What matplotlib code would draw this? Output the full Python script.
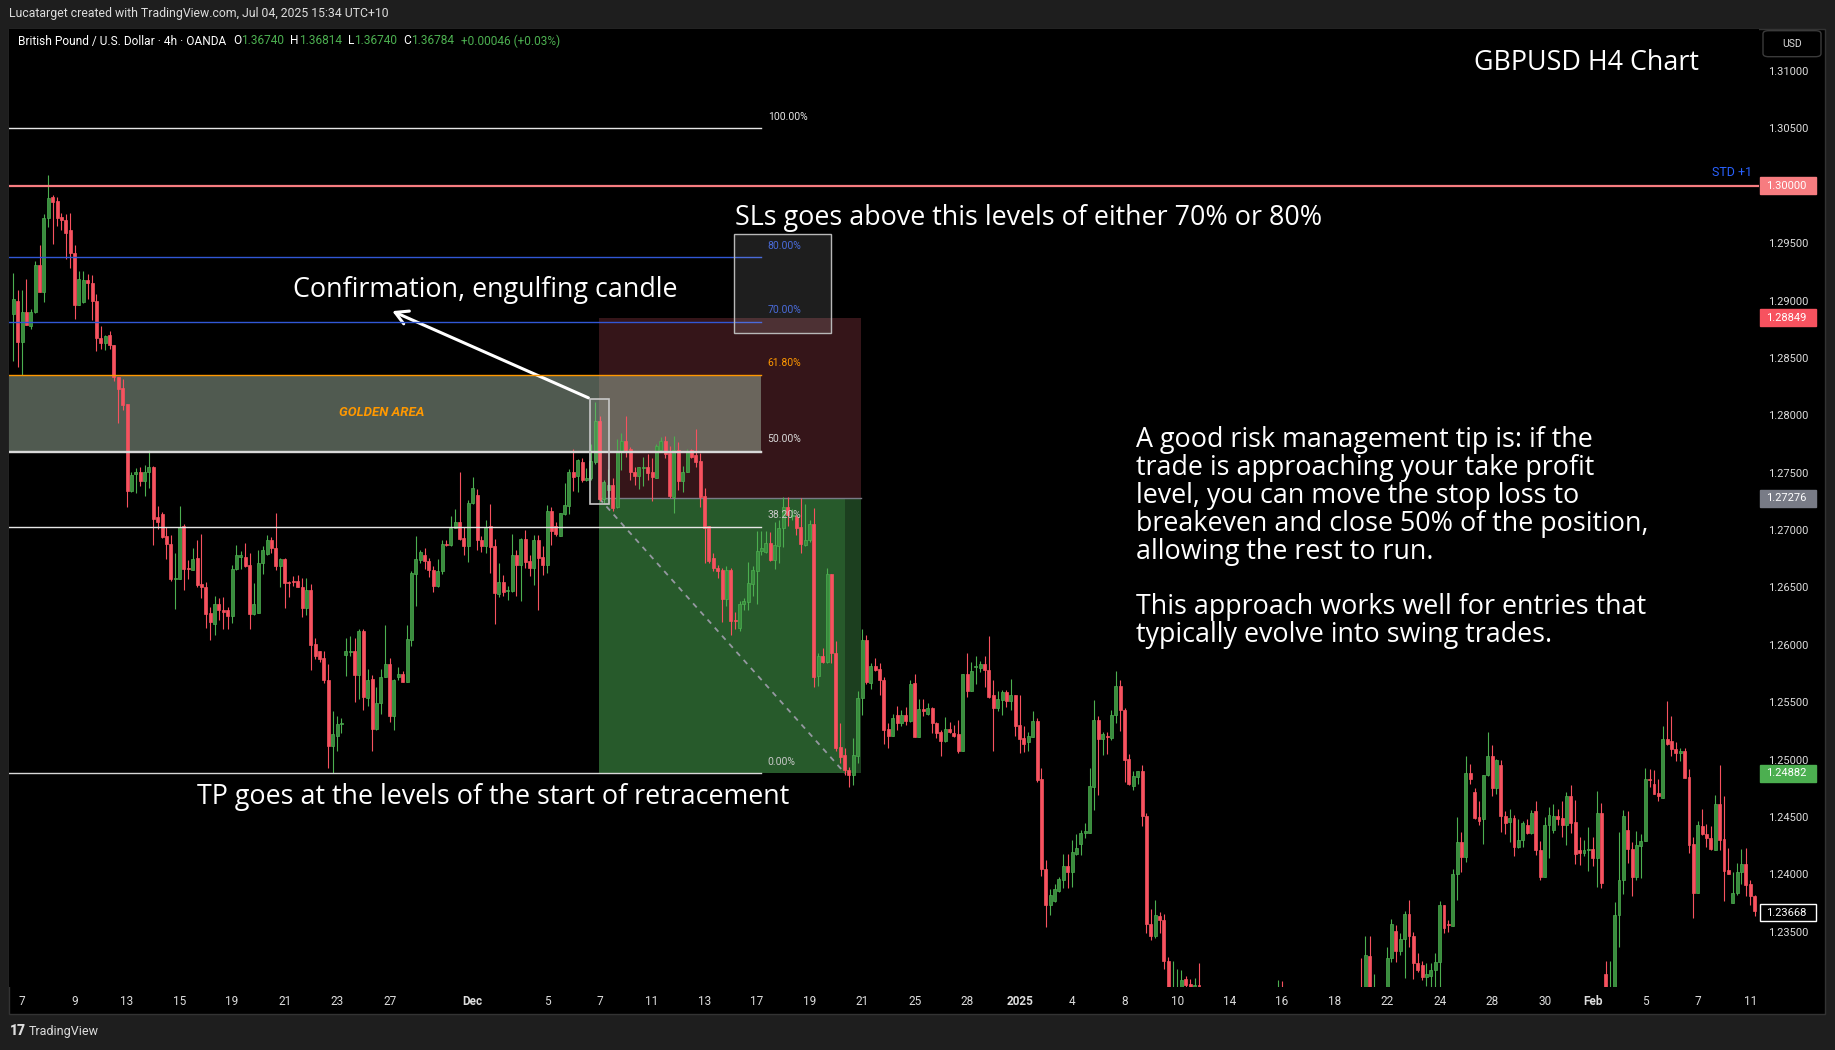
########## GBPUSD H4 chart, TradingView style
import numpy as np
import matplotlib
matplotlib.use('Agg')
import matplotlib.pyplot as plt
from matplotlib.patches import Rectangle, FancyBboxPatch

plt.rcParams['font.family'] = ['Roboto', 'DejaVu Sans']

### canvas in pixels
W, H = 1835, 1050
AX_L, AX_R, AX_T, AX_B = 9.4, 1759, 29, 987

### 4h candles, prices in pips (price * 1e4)
opens = [
    12888,12900,12864,12890,12878,12890,12931,12907,12972,12990, 12987,12973,12970,12961,12941,12896,12899,12918,12915,12900,
    12867,12863,12870,12861,12833,12824,12810,12734,12749,12751, 12743,12751,12755,12711,12714,12695,12688,12657,12657,12704,
    12667,12665,12676,12653,12650,12628,12618,12636,12630,12630, 12625,12666,12677,12677,12670,12627,12628,12671,12679,12691,
    12684,12669,12675,12655,12656,12656,12650,12632,12648,12601, 12595,12589,12569,12512,12521,12531,12591,12594,12595,12574,
    12612,12554,12570,12527,12549,12572,12583,12538,12572,12575, 12568,12604,12662,12674,12678,12673,12665,12651,12664,12688,
    12687,12702,12707,12693,12686,12724,12731,12691,12686,12704, 12686,12644,12655,12647,12647,12678,12670,12692,12673,12667,
    12691,12677,12670,12717,12704,12695,12714,12721,12751,12747, 12759,12744,12745,12759,12795,12727,12735,12739,12720,12768,
    12778,12771,12751,12747,12754,12755,12751,12745,12770,12778, 12767,12729,12770,12743,12751,12770,12765,12760,12730,12704,
    12676,12667,12665,12640,12665,12622,12615,12636,12637,12653, 12664,12682,12681,12689,12674,12686,12702,12720,12712,12711,
    12703,12687,12691,12705,12573,12590,12585,12662,12593,12511, 12504,12491,12487,12503,12554,12604,12567,12582,12579,12569,
    12527,12521,12539,12532,12539,12534,12567,12520,12544,12540, 12545,12532,12524,12516,12527,12523,12522,12508,12575,12560,
    12581,12580,12583,12578,12556,12545,12552,12559,12551,12556, 12530,12519,12515,12520,12534,12483,12405,12373,12377,12386,
    12395,12407,12402,12418,12427,12436,12436,12476,12535,12518, 12521,12519,12539,12564,12543,12501,12477,12485,12490,12451,
    12357,12346,12364,12360,12325,12280,12290,12296,12309,12305, 12280,12304,12270,12245,12255,12240,12210,12160,12125,12150,
    12180,12200,12210,12230,12250,12235,12220,12240,12262,12275, 12295,12268,12250,12232,12240,12255,12268,12262,12250,12230,
    12175,12190,12215,12230,12248,12262,12280,12270,12290,12270, 12329,12290,12298,12282,12292,12327,12351,12333,12344,12366,
    12346,12323,12321,12311,12312,12317,12324,12373,12357,12355, 12400,12428,12415,12488,12472,12450,12448,12487,12503,12475,
    12495,12451,12446,12449,12424,12430,12443,12436,12455,12421, 12398,12443,12439,12451,12449,12443,12468,12446,12421,12419,
    12421,12422,12414,12454,12313,12265,12290,12365,12395,12439, 12422,12398,12425,12429,12483,12479,12471,12467,12518,12516,
    12509,12506,12508,12485,12427,12384,12442,12435,12432,12421, 12461,12431,12404,12375,12384,12402,12409,12392,12381]
highs = [
    12924,12909,12909,12919,12893,12934,12948,12975,13009,12992, 12990,12976,12975,12976,12948,12926,12926,12923,12922,12906,
    12878,12870,12873,12861,12833,12832,12810,12751,12754,12755, 12757,12770,12756,12721,12716,12703,12696,12680,12721,12705,
    12674,12684,12691,12697,12655,12633,12643,12641,12642,12633, 12670,12687,12682,12689,12680,12654,12683,12686,12696,12694,
    12715,12676,12676,12656,12660,12661,12658,12658,12653,12606, 12595,12595,12583,12542,12538,12536,12606,12608,12606,12614,
    12614,12579,12574,12563,12579,12617,12589,12570,12581,12577, 12617,12664,12695,12683,12684,12676,12669,12675,12691,12691,
    12712,12718,12751,12703,12726,12746,12736,12695,12709,12723, 12692,12671,12661,12651,12697,12683,12693,12700,12678,12696,
    12696,12686,12722,12720,12707,12715,12741,12753,12771,12762, 12763,12754,12775,12812,12799,12744,12753,12745,12779,12785,
    12799,12772,12755,12755,12764,12766,12763,12775,12781,12782, 12773,12782,12777,12756,12771,12771,12788,12767,12737,12704,
    12680,12670,12667,12669,12667,12629,12638,12641,12672,12669, 12699,12699,12699,12698,12707,12709,12729,12729,12718,12713,
    12728,12723,12709,12719,12593,12597,12667,12662,12603,12532, 12510,12494,12519,12560,12614,12609,12584,12589,12584,12572,
    12532,12540,12547,12543,12546,12569,12575,12553,12553,12549, 12546,12533,12526,12537,12533,12530,12535,12575,12593,12585,
    12590,12586,12590,12608,12569,12560,12561,12561,12570,12556, 12556,12529,12524,12542,12536,12493,12413,12387,12392,12398,
    12418,12418,12430,12435,12439,12445,12493,12552,12538,12524, 12524,12543,12577,12569,12545,12505,12490,12490,12495,12454,
    12370,12378,12367,12366,12328,12325,12318,12317,12312,12309, 12310,12323,12280,12262,12270,12250,12225,12175,12160,12190,
    12215,12225,12240,12260,12270,12255,12245,12270,12285,12308, 12307,12280,12262,12250,12265,12275,12285,12280,12265,12250,
    12200,12225,12240,12255,12270,12290,12295,12290,12327,12346, 12346,12313,12300,12298,12337,12361,12356,12349,12368,12378,
    12350,12332,12325,12323,12323,12332,12377,12373,12360,12405, 12450,12437,12503,12496,12475,12464,12487,12524,12513,12501,
    12500,12455,12457,12452,12448,12447,12448,12456,12464,12429, 12450,12459,12461,12457,12464,12472,12478,12465,12433,12430,
    12441,12433,12473,12462,12325,12325,12376,12437,12456,12455, 12428,12438,12435,12493,12492,12491,12483,12529,12551,12538,
    12515,12510,12510,12492,12433,12447,12457,12444,12442,12469, 12495,12468,12423,12402,12410,12422,12423,12395,12382]
lows = [
    12847,12842,12835,12879,12875,12889,12907,12899,12964,12949, 12965,12961,12936,12928,12884,12896,12898,12901,12883,12856,
    12858,12857,12858,12830,12793,12805,12720,12733,12732,12738, 12730,12737,12687,12701,12693,12675,12656,12631,12657,12648,
    12657,12665,12650,12641,12615,12604,12609,12622,12614,12614, 12619,12665,12666,12668,12614,12626,12628,12662,12678,12680,
    12665,12650,12632,12642,12651,12650,12624,12626,12578,12588, 12585,12567,12493,12488,12508,12523,12573,12590,12550,12553,
    12543,12547,12508,12526,12540,12572,12533,12526,12569,12568, 12568,12599,12634,12671,12666,12659,12646,12650,12662,12686,
    12686,12702,12691,12678,12672,12723,12683,12681,12680,12663, 12618,12642,12643,12639,12646,12643,12638,12667,12660,12652,
    12630,12661,12663,12687,12695,12695,12713,12714,12734,12733, 12742,12743,12744,12758,12725,12724,12726,12717,12719,12752,
    12764,12744,12739,12736,12738,12744,12725,12745,12770,12763, 12728,12715,12735,12733,12751,12763,12755,12720,12671,12671,
    12664,12658,12620,12634,12609,12614,12612,12630,12630,12643, 12636,12678,12680,12673,12666,12671,12685,12704,12709,12696,
    12680,12686,12690,12563,12564,12584,12584,12584,12508,12497, 12487,12476,12478,12497,12539,12566,12562,12577,12556,12514,
    12510,12521,12526,12529,12530,12533,12520,12520,12538,12539, 12523,12519,12503,12515,12523,12520,12506,12508,12555,12560,
    12566,12576,12563,12554,12508,12542,12539,12546,12543,12521, 12506,12507,12508,12520,12481,12399,12354,12365,12376,12385,
    12388,12388,12389,12417,12417,12432,12436,12456,12469,12504, 12505,12517,12532,12525,12481,12478,12474,12479,12442,12349,
    12343,12345,12349,12318,12270,12255,12278,12290,12295,12276, 12272,12255,12238,12230,12235,12200,12150,12100,12110,12140,
    12170,12185,12195,12215,12225,12210,12205,12230,12250,12268, 12260,12240,12225,12215,12230,12245,12250,12240,12220,12160,
    12160,12180,12200,12220,12235,12250,12260,12255,12255,12262, 12280,12282,12270,12275,12285,12324,12324,12330,12310,12337,
    12309,12315,12308,12303,12302,12302,12302,12349,12350,12355, 12378,12402,12411,12479,12448,12443,12427,12486,12468,12470,
    12437,12435,12428,12416,12423,12424,12435,12435,12417,12395, 12398,12414,12436,12443,12433,12426,12436,12409,12408,12416,
    12403,12407,12389,12388,12250,12255,12280,12337,12383,12410, 12381,12395,12397,12429,12476,12470,12464,12467,12513,12503,
    12499,12499,12484,12419,12362,12384,12434,12424,12421,12421, 12421,12377,12400,12375,12382,12392,12381,12373,12364]
closes = [
    12901,12864,12890,12879,12890,12931,12907,12972,12989,12986, 12972,12970,12959,12941,12896,12919,12918,12915,12900,12867,
    12863,12869,12861,12833,12823,12809,12734,12748,12751,12743, 12751,12755,12710,12707,12694,12688,12657,12658,12703,12666,
    12666,12675,12652,12650,12627,12620,12636,12630,12629,12625, 12666,12678,12678,12669,12627,12636,12671,12683,12691,12684,
    12669,12675,12654,12654,12655,12650,12632,12648,12600,12590, 12588,12569,12512,12522,12531,12532,12595,12595,12574,12612,
    12555,12569,12527,12549,12572,12583,12538,12569,12575,12568, 12605,12663,12675,12681,12673,12665,12651,12664,12688,12687,
    12702,12707,12692,12686,12724,12737,12691,12686,12703,12685, 12645,12655,12646,12648,12678,12670,12692,12672,12667,12691,
    12676,12670,12717,12699,12697,12715,12722,12751,12746,12761, 12744,12745,12760,12795,12727,12742,12739,12719,12768,12778,
    12770,12751,12747,12755,12755,12750,12746,12773,12778,12766, 12730,12770,12743,12751,12768,12764,12759,12729,12702,12673,
    12667,12664,12640,12665,12621,12621,12636,12638,12654,12665, 12682,12684,12689,12674,12687,12702,12720,12713,12713,12702,
    12688,12691,12705,12572,12590,12585,12662,12593,12510,12502, 12491,12487,12504,12554,12604,12568,12582,12578,12569,12526,
    12521,12536,12532,12539,12534,12566,12520,12544,12542,12545, 12532,12523,12516,12527,12524,12521,12508,12575,12560,12577,
    12582,12583,12578,12555,12545,12553,12559,12551,12556,12529, 12518,12514,12521,12534,12482,12405,12373,12382,12387,12396,
    12407,12402,12420,12423,12436,12438,12477,12535,12518,12522, 12520,12539,12564,12543,12500,12479,12486,12490,12451,12357,
    12346,12365,12360,12325,12280,12290,12302,12308,12304,12285, 12304,12270,12245,12255,12240,12210,12160,12125,12150,12180,
    12200,12210,12230,12250,12235,12220,12240,12262,12275,12295, 12268,12250,12232,12240,12255,12268,12262,12250,12230,12175,
    12190,12215,12230,12248,12262,12280,12270,12285,12270,12330, 12290,12298,12282,12292,12327,12357,12333,12344,12366,12346,
    12323,12317,12311,12313,12317,12324,12373,12353,12356,12400, 12428,12415,12488,12483,12449,12447,12487,12503,12475,12500,
    12451,12445,12449,12424,12430,12445,12436,12454,12421,12398, 12443,12452,12451,12448,12443,12468,12445,12418,12419,12421,
    12422,12414,12454,12393,12265,12290,12365,12395,12451,12422, 12398,12426,12429,12483,12482,12470,12468,12518,12514,12509,
    12506,12508,12484,12426,12384,12443,12435,12432,12422,12461, 12430,12403,12400,12384,12402,12409,12391,12381,12368]

### time axis: candle that starts each labelled day
tick_idx = [2, 14, 26, 38, 50, 62, 74, 86, 105, 122, 134, 146, 158, 170, 182, 194, 206,
            218, 230, 242, 254, 266, 278, 290, 302, 314, 326, 338, 350, 361, 373, 385, 397]
tick_txt = ['7', '9', '13', '15', '19', '21', '23', '27', 'Dec', '5', '7', '11', '13', '17', '19', '21', '25',
            '28', '2025', '4', '8', '10', '14', '16', '18', '22', '24', '28', '30', 'Feb', '5', '7', '11']
price_ticks = [1.235, 1.24, 1.245, 1.25, 1.255, 1.26, 1.265, 1.27, 1.275, 1.28, 1.285, 1.29, 1.295, 1.30, 1.305, 1.31]

### fib retracement
fib_low, fib_high = 1.24882, 1.30500
fib_levels = [0.0, 0.382, 0.5, 0.618, 0.7, 0.8, 1.0]
fib_names = ['0.00%', '38.20%', '50.00%', '61.80%', '70.00%', '80.00%', '100.00%']
fib_colors = ['#d8d8d8', '#e6e6e6', '#d8d8d8', '#ff9800', '#3157d5', '#3157d5', '#e6e6e6']

### short position tool and price tags
entry, stop, target = 1.27276, 1.28849, 1.24882
std_level = 1.30000
last_price = 1.23668

o = np.array(opens) / 1e4
h = np.array(highs) / 1e4
l = np.array(lows) / 1e4
c = np.array(closes) / 1e4
x = np.arange(len(c))

X0, X1 = -0.9, 399.0
Y0, Y1 = 1.23020, 1.31365

def fx(px):   # pixel column -> candle index
    return X0 + (px - AX_L) / (AX_R - AX_L) * (X1 - X0)

def fy(py):   # pixel row (from top) -> price
    return Y1 - (py - AX_T) / (AX_B - AX_T) * (Y1 - Y0)

def row(price):
    return AX_T + (Y1 - price) / (Y1 - Y0) * (AX_B - AX_T)

fig = plt.figure(figsize=(W / 100, H / 100), dpi=100, facecolor='#1e1e1e')
fig.add_artist(Rectangle((9 / W, 1 - 1014 / H), (1825 - 9) / W, (1014 - 29) / H, transform=fig.transFigure,
                         facecolor='black', edgecolor='#333333', lw=1, zorder=-5))
ax = fig.add_axes([AX_L / W, 1 - AX_B / H, (AX_R - AX_L) / W, (AX_B - AX_T) / H])
ax.set_facecolor('black')
ax.set_xlim(X0, X1)
ax.set_ylim(Y0, Y1)
for s in ax.spines.values():
    s.set_visible(False)

### zones (below candles)
fib_right = fx(760.7)
pos_l, pos_hit, pos_r = fx(599.2), fx(845), fx(861.3)
ax.add_patch(Rectangle((pos_l, entry), pos_r - pos_l, stop - entry, facecolor='#351519', lw=0, zorder=1))
ax.add_patch(Rectangle((pos_l, target), pos_hit - pos_l, entry - target, facecolor='#275a2b', lw=0, zorder=1))
ax.add_patch(Rectangle((pos_hit, target), pos_r - pos_hit, entry - target, facecolor='#1c3f1f', lw=0, zorder=1))
ax.plot([pos_l, pos_r], [entry, entry], color='#787b86', lw=1, zorder=2)
lv = {n: fib_low + f * (fib_high - fib_low) for n, f in zip(fib_names, fib_levels)}
ax.add_patch(Rectangle((X0 - 5, lv['50.00%']), fib_right - X0 + 5, lv['61.80%'] - lv['50.00%'],
                       facecolor='#a0b5a0', alpha=0.5, lw=0, zorder=1.5))
ax.plot([pos_l, pos_hit], [entry, target], color='#9598a1', lw=1.3, ls=(0, (3, 3)), zorder=2)

### candles
up = c >= o
edge = np.where(up, '#4caf50', '#f7525f')
face = np.where(up, '#3a8c3e', '#f7525f')
ax.vlines(x, l, h, colors=edge, lw=0.8, zorder=3)
ax.bar(x, np.maximum(np.abs(c - o), 0.00009), bottom=np.minimum(o, c), width=0.68,
       color=face, edgecolor=edge, linewidth=0.5, zorder=4)

### fib lines and labels
for name, col in zip(fib_names, fib_colors):
    ax.plot([X0, fib_right], [lv[name], lv[name]], color=col, lw=1, zorder=5)
    ax.annotate(name, (fx(767.7), lv[name]), xytext=(0, 8.4), textcoords='offset points',
                color=col if name not in ('38.20%', '0.00%') else '#c8c8c8', fontsize=7.5, va='center', ha='left', zorder=5)
ax.plot([X0, fib_right], [lv['50.00%'] - 0.00015, lv['50.00%'] - 0.00015], color='#d8d8d8', lw=1, zorder=5)
ax.text(fx(381.5), fy(413), 'GOLDEN AREA', color='#ff9800', fontsize=9.5, fontweight='bold', style='italic',
        ha='center', va='center', zorder=5)

### boxes
ax.add_patch(Rectangle((fx(733.8), fy(333.5)), fx(830.9) - fx(733.8), fy(234) - fy(333.5),
                       facecolor=(1, 1, 1, 0.12), edgecolor='#b8b8b8', lw=1, zorder=5))
ax.add_patch(Rectangle((fx(590.3), fy(504.3)), fx(608.7) - fx(590.3), fy(399.3) - fy(504.3),
                       facecolor=(1, 1, 1, 0.08), edgecolor='#c8c8c8', lw=1.2, zorder=5))

### std line
ax.axhline(std_level, color='#f77c80', lw=1.6, zorder=5)
fig.text(1752 / W, 1 - 173 / H, 'STD +1', color='#2962ff', fontsize=9, ha='right', va='center')

### arrow
ax.annotate('', xy=(389.7, H - 310), xycoords='figure pixels', xytext=(591, H - 399), textcoords='figure pixels',
            arrowprops=dict(arrowstyle='->,head_length=0.9,head_width=0.5', color='white', lw=2.2))

### annotation texts
big = dict(color='white', fontsize=19.4, family=['Open Sans', 'DejaVu Sans'], va='center')
fig.text(1699 / W, 1 - 63 / H, 'GBPUSD H4 Chart', ha='right', **big)
fig.text(735 / W, 1 - 218 / H, 'SLs goes above this levels of either 70% or 80%', ha='left', **big)
fig.text(292.6 / W, 1 - 290 / H, 'Confirmation, engulfing candle', ha='left', **big)
fig.text(196.6 / W, 1 - 797 / H, 'TP goes at the levels of the start of retracement', ha='left', **big)
para = ['A good risk management tip is: if the', 'trade is approaching your take profit',
        'level, you can move the stop loss to', 'breakeven and close 50% of the position,',
        'allowing the rest to run.', '', 'This approach works well for entries that',
        'typically evolve into swing trades.']
for k, line in enumerate(para):
    fig.text(1136.4 / W, 1 - (440 + 27.9 * k) / H, line, ha='left', linespacing=1, **big)

### axes ticks
ax.yaxis.tick_right()
ax.set_yticks(price_ticks)
ax.set_yticklabels([f'{p:.5f}' for p in price_ticks])
ax.tick_params(axis='y', length=0, pad=6.5, labelcolor='#dddddd', labelsize=8)
ax.set_xticks(tick_idx)
ax.set_xticklabels(tick_txt)
ax.tick_params(axis='x', length=0, pad=5.5, labelcolor='#dddddd', labelsize=8.5)
for t in ax.get_xticklabels():
    if t.get_text() in ('Dec', '2025', 'Feb'):
        t.set_fontweight('bold')

### price tags on the scale
def price_tag(price, face, edge=None, txt='white'):
    yp = H - row(price)
    fig.add_artist(Rectangle((1760 / W, (yp - 8.5) / H), 56 / W, 17 / H, transform=fig.transFigure,
                             facecolor=face, edgecolor=edge or face, lw=1, zorder=5))
    fig.text(1766 / W, yp / H, f'{price:.5f}', color=txt, fontsize=8, ha='left', va='center', zorder=6)

price_tag(std_level, '#f77c80')
price_tag(stop, '#f7525f')
price_tag(entry, '#787b86')
price_tag(target, '#4caf50')
price_tag(last_price, 'black', edge='white')

### USD box
fig.add_artist(FancyBboxPatch((1763 / W, 1 - 56.7 / H), 58 / W, 26 / H, boxstyle='round,pad=0,rounding_size=0.003',
                              transform=fig.transFigure, facecolor='black', edgecolor='#3a3a3a', lw=1, zorder=5))
fig.text(1792 / W, 1 - 44 / H, 'USD', color='#dddddd', fontsize=7.5, ha='center', va='center', zorder=6)

### header, legend, footer
fig.text(9.4 / W, 1 - 14 / H, 'Lucatarget created with TradingView.com, Jul 04, 2025 15:34 UTC+10',
         color='#dddddd', fontsize=8.85, ha='left', va='center')
renderer = fig.canvas.get_renderer()
pieces = [('British Pound / U.S. Dollar · 4h · OANDA', '#ffffff', 7), ('O', '#ffffff', 0), ('1.36740', '#4caf50', 6),
          ('H', '#ffffff', 0), ('1.36814', '#4caf50', 6), ('L', '#ffffff', 0), ('1.36740', '#4caf50', 6),
          ('C', '#ffffff', 0), ('1.36784', '#4caf50', 7), ('+0.00046 (+0.03%)', '#4caf50', 0)]
xpos = 17.6
for txt, col, gap in pieces:
    t = fig.text(xpos / W, 1 - 41 / H, txt, color=col, fontsize=8.6, ha='left', va='center')
    xpos += t.get_window_extent(renderer=renderer).width + gap
fig.text(9.4 / W, 1 - 1031 / H, '17', color='#dddddd', fontsize=10, fontweight='black', ha='left', va='center')
fig.text(29 / W, 1 - 1031 / H, 'TradingView', color='#dddddd', fontsize=9, ha='left', va='center')

plt.savefig('out.png', dpi=100, facecolor=fig.get_facecolor())
